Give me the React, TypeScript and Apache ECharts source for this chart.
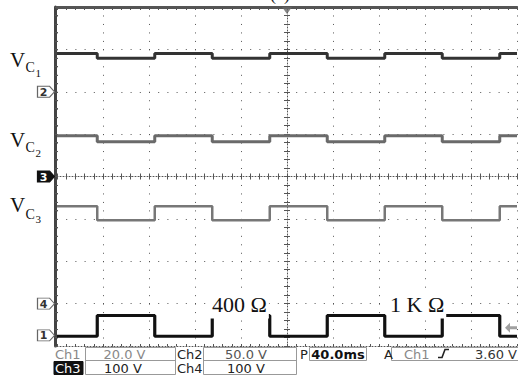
import React, { useEffect, useRef } from 'react';
import * as echarts from 'echarts';

// ---- time axis (ms, relative to trigger) and vertical scale (divisions) ----
const TIME_MIN = -200;
const TIME_MAX = 200;
const TIME_DIV = 40;
const DIV_MIN = -4;
const DIV_MAX = 4;

// ---- switching instants (ms) ----
const transitionsMs = [-165, -115, -65, -15, 35, 85, 135, 185];

// ---- levels of every segment between edges (divisions) ----
const vc1Values = [2.9, 2.79, 2.9, 2.79, 2.9, 2.79, 2.9, 2.79, 2.9];
const vc2Values = [0.96, 0.82, 0.96, 0.82, 0.96, 0.82, 0.96, 0.82, 0.96];
const vc3Values = [-0.7, -1.03, -0.7, -1.03, -0.7, -1.03, -0.7, -1.03, -0.7];
const loadValues = [-3.77, -3.28, -3.77, -3.28, -3.77, -3.28, -3.77, -3.28, -3.77];

// ---- channel ground markers ----
const markerLevels = [2, 0, -3, -3.75];
const markerNames = ['2', '3', '4', '1'];
const triggerLevel = -3.57;

// ---- readout texts ----
const channelNames = ['Ch1', 'Ch2', 'Ch3', 'Ch4'];
const channelScales = ['20.0 V', '50.0 V', '100 V', '100 V'];
const timebase = '40.0ms';
const triggerSource = 'Ch1';
const triggerValue = '3.60 V';
const loadLabels = ['400 Ω', '1 K Ω'];
const traceSubscripts = ['1', '2', '3'];
const panelTitle = '(c)';

function buildSteps(values: number[]) {
  const edges = [TIME_MIN, ...transitionsMs, TIME_MAX];
  const pts: number[][] = [];
  values.forEach((v, i) => {
    pts.push([edges[i], v]);
    pts.push([edges[i + 1], v]);
  });
  return pts;
}

const SERIF = '"Liberation Serif", "Times New Roman", serif';
const SANS = '"DejaVu Sans", sans-serif';

function txt(x: number, y: number, text: string, size: number, o: any = {}) {
  return {
    type: 'text',
    x,
    y,
    z: 100,
    style: {
      text,
      fontSize: size,
      fontFamily: o.family || SANS,
      fontWeight: o.weight || 'normal',
      fill: o.fill || '#333',
      align: o.align || 'left',
      verticalAlign: 'middle',
      backgroundColor: o.bg,
      padding: o.pad,
    },
  };
}

function box(x: number, y: number, w: number, h: number, o: any = {}) {
  return {
    type: 'rect',
    z: 99,
    shape: { x, y, width: w, height: h },
    style: { fill: o.fill || 'none', stroke: o.stroke || '#999', lineWidth: o.lw ?? 1 },
  };
}

const baseX = { type: 'value', min: TIME_MIN, max: TIME_MAX, interval: TIME_DIV, axisLabel: { show: false } };
const baseY = { type: 'value', min: DIV_MIN, max: DIV_MAX, interval: 1, axisLabel: { show: false } };
const GRID_COLOR = '#555';

export default function App() {
  const ref = useRef<HTMLDivElement>(null);
  useEffect(() => {
    if (!ref.current) return;
    const chart = echarts.init(ref.current, undefined, { renderer: 'svg' });
    const tickX = (inside: boolean, len: number, onZero: boolean, position: string, showLine: boolean, lineStyle: any, split: boolean) => ({
      ...baseX,
      position,
      axisLine: { show: showLine, onZero, onZeroAxisIndex: 0, lineStyle },
      axisTick: { show: true, inside, length: len, lineStyle: { color: GRID_COLOR, width: 1 } },
      minorTick: { show: true, splitNumber: 5, length: len, lineStyle: { color: GRID_COLOR, width: 1 } },
      splitLine: split
        ? { show: true, lineStyle: { color: GRID_COLOR, width: 1, type: [1, 7.475] } }
        : { show: false },
    });
    const tickY = (inside: boolean, len: number, onZero: boolean, position: string, showLine: boolean, lineStyle: any, split: boolean, offset = 0) => ({
      ...baseY,
      position,
      offset,
      axisLine: { show: showLine, onZero, onZeroAxisIndex: 0, lineStyle },
      axisTick: { show: true, inside, length: len, lineStyle: { color: GRID_COLOR, width: 1 } },
      minorTick: { show: true, splitNumber: 5, length: len, lineStyle: { color: GRID_COLOR, width: 1 } },
      splitLine: split
        ? { show: true, lineStyle: { color: GRID_COLOR, width: 1, type: [1, 8.2] } }
        : { show: false },
    });

    const graphic: any[] = [];
    // title (cut at top)
    graphic.push(txt(280, -5.6, panelTitle, 18, { family: SERIF, fill: '#222', align: 'center' }));
    // V_C labels
    const vPos = [
      [59.7, 67.7, 72.6],
      [140.3, 147.5, 153],
      [205, 214.5, 219],
    ];
    vPos.forEach((p, i) => {
      graphic.push(txt(10, p[0], 'V', 21, { family: SERIF, fill: '#111' }));
      graphic.push(txt(25.5, p[1], 'C', 14, { family: SERIF, fill: '#111' }));
      graphic.push(txt(35.5, p[2], traceSubscripts[i], 11, { family: SERIF, fill: '#111' }));
    });
    // load labels
    graphic.push(txt(210, 304.5, loadLabels[0], 22, { family: SERIF, fill: '#111', bg: '#fff', pad: [3, 2, 3, 2] }));
    graphic.push(txt(388, 304.5, loadLabels[1], 22, { family: SERIF, fill: '#111', bg: '#fff', pad: [3, 2, 3, 2] }));

    // readout panel
    const r1 = 354;
    const r2 = 368.5;
    graphic.push(box(85.5, 347.5, 90, 27));
    graphic.push({ type: 'line', z: 99, shape: { x1: 85.5, y1: 360.5, x2: 175.5, y2: 360.5 }, style: { stroke: '#999', lineWidth: 1 } });
    graphic.push(box(203.5, 347.5, 93, 27));
    graphic.push({ type: 'line', z: 99, shape: { x1: 203.5, y1: 360.5, x2: 296.5, y2: 360.5 }, style: { stroke: '#999', lineWidth: 1 } });
    graphic.push(box(309.5, 347.5, 57, 13));
    graphic.push(box(391.5, 347.5, 140, 13));
    graphic.push(box(54, 361.5, 29, 13, { fill: '#111', stroke: '#111' }));

    graphic.push(txt(55, r1, channelNames[0], 13, { fill: '#888' }));
    graphic.push(txt(124.5, r1, channelScales[0], 13, { fill: '#888', align: 'center' }));
    graphic.push(txt(177, r1, channelNames[1], 13, { fill: '#222' }));
    graphic.push(txt(246, r1, channelScales[1], 13, { fill: '#555', align: 'center' }));
    graphic.push(txt(300, r1, 'P', 13, { fill: '#222' }));
    graphic.push(txt(338, r1, timebase, 13, { fill: '#111', align: 'center', weight: 'bold' }));
    graphic.push(txt(384, r1, 'A', 13, { fill: '#222' }));
    graphic.push(txt(404, r1, triggerSource, 13, { fill: '#888' }));
    graphic.push({
      type: 'polyline',
      z: 100,
      shape: { points: [[438, 357.5], [442, 357.5], [445, 349.5], [449, 349.5]] },
      style: { stroke: '#222', lineWidth: 1.6, fill: 'none' },
    });
    graphic.push(txt(475, r1, triggerValue, 13, { fill: '#333' }));

    graphic.push(txt(55, r2, channelNames[2], 13, { fill: '#fff' }));
    graphic.push(txt(123, r2, channelScales[2], 13, { fill: '#222', align: 'center' }));
    graphic.push(txt(177, r2, channelNames[3], 13, { fill: '#222' }));
    graphic.push(txt(246, r2, channelScales[3], 13, { fill: '#222', align: 'center' }));

    const markerSymbol = 'path://M0,0L12,0L17,5.5L12,11L0,11Z';

    chart.setOption({
      animation: false,
      backgroundColor: '#fff',
      grid: { left: 57, top: 7, width: 460, height: 339, containLabel: false },
      xAxis: [
        tickX(true, 2, false, 'bottom', true, { color: GRID_COLOR, width: 1, type: [1, 2] }, true),
        tickX(true, 3, false, 'top', true, { color: '#555', width: 3 }, false),
        tickX(false, 3, true, 'bottom', true, { color: GRID_COLOR, width: 1, type: [1, 2] }, false),
        tickX(false, 3, true, 'top', false, { color: GRID_COLOR }, false),
      ],
      yAxis: [
        tickY(true, 3, false, 'left', true, { color: '#444', width: 3 }, true, 2),
        tickY(false, 3, true, 'left', true, { color: GRID_COLOR, width: 1, type: [1, 2] }, false),
        tickY(false, 3, true, 'right', false, { color: GRID_COLOR }, false),
      ],
      series: [
        { type: 'line', name: 'VC1', data: buildSteps(vc1Values), symbol: 'none', z: 5, lineStyle: { color: '#333', width: 3 } },
        { type: 'line', name: 'VC2', data: buildSteps(vc2Values), symbol: 'none', z: 5, lineStyle: { color: '#6a6a6a', width: 3 } },
        { type: 'line', name: 'VC3', data: buildSteps(vc3Values), symbol: 'none', z: 5, lineStyle: { color: '#777', width: 2.5 } },
        { type: 'line', name: 'Load', data: buildSteps(loadValues), symbol: 'none', z: 5, lineStyle: { color: '#111', width: 3.2 } },
        {
          type: 'scatter',
          name: 'markers',
          clip: false,
          z: 20,
          data: [
            ...markerLevels.map((lv, i) => {
              const filled = markerNames[i] === '3';
              return {
                value: [TIME_MIN, lv],
                name: markerNames[i],
                symbol: markerSymbol,
                symbolSize: [17, 11],
                symbolOffset: [-11, 0],
                itemStyle: { color: filled ? '#111' : '#fff', borderColor: filled ? '#111' : '#666', borderWidth: 1, opacity: 1 },
                label: {
                  show: true,
                  position: 'inside',
                  formatter: '{b}',
                  offset: [-2.5, 0.5],
                  fontSize: 11,
                  fontWeight: 'bold',
                  fontFamily: SANS,
                  color: filled ? '#fff' : '#333',
                },
              };
            }),
            {
              value: [0, DIV_MAX],
              name: 'trig-pos',
              symbol: 'path://M0,0L10,0L5,7Z',
              symbolSize: [10, 7],
              symbolOffset: [0, 3.5],
              itemStyle: { color: '#666' },
              label: { show: false },
            },
            {
              value: [TIME_MAX, triggerLevel],
              name: 'trig-level',
              symbol: 'path://M0,5L5,0L5,3.5L12,3.5L12,6.5L5,6.5L5,10Z',
              symbolSize: [12, 10],
              symbolOffset: [-6, 0],
              itemStyle: { color: '#888' },
              label: { show: false },
            },
          ],
        },
      ],
      graphic,
    });
    return () => chart.dispose();
  }, []);
  return <div ref={ref} style={{ position: 'fixed', left: 0, top: 0, width: 518, height: 379 }} />;
}
